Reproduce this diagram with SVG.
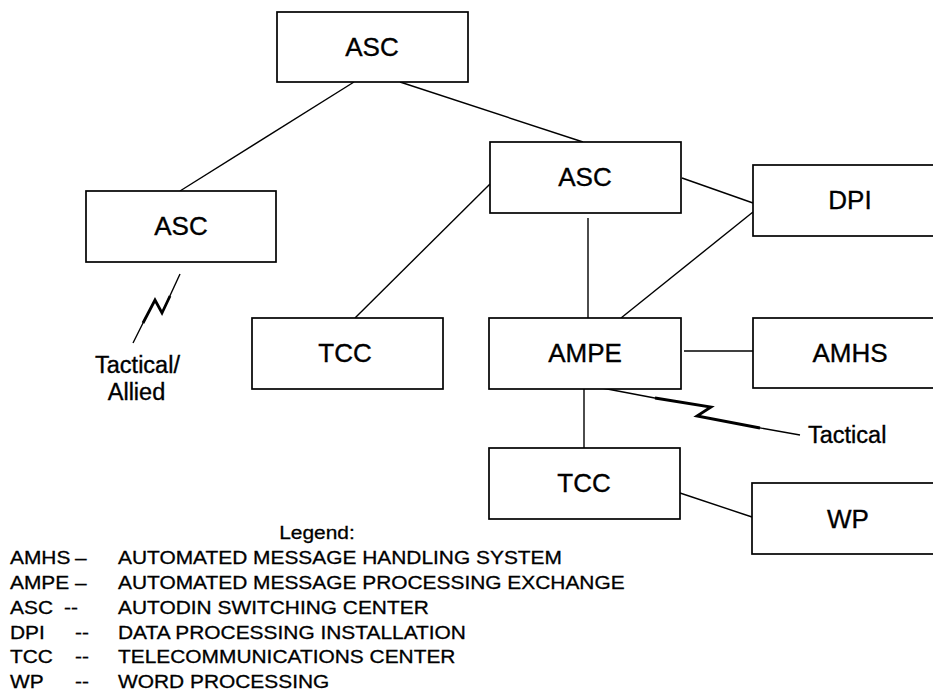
<svg xmlns="http://www.w3.org/2000/svg" width="933" height="690" viewBox="0 0 933 690">
<style>
.box{fill:#fff;stroke:#000;stroke-width:1.7}
.lbl{font-family:"Liberation Sans",Arial,sans-serif;font-size:26px;fill:#000;stroke:#000;stroke-width:0.35;text-anchor:middle}
.ann{font-family:"Liberation Sans",Arial,sans-serif;font-size:23.5px;fill:#000;stroke:#000;stroke-width:0.35}
.leg{font-family:"Liberation Sans",Arial,sans-serif;font-size:19px;fill:#000;stroke:#000;stroke-width:0.3}
.ln{fill:none;stroke:#000;stroke-width:1.4}
.bolt{fill:none;stroke:#000;stroke-width:2.8;stroke-linejoin:miter}
</style>
<rect width="933" height="690" fill="#fff"/>
<g id="connectors">
<line class="ln" x1="354" y1="82" x2="180" y2="191"/>
<line class="ln" x1="400" y1="82" x2="583" y2="142"/>
<line class="ln" x1="355" y1="318" x2="490" y2="184"/>
<line class="ln" x1="682" y1="178" x2="753" y2="203"/>
<line class="ln" x1="588" y1="218" x2="588" y2="318"/>
<line class="ln" x1="621" y1="318" x2="753" y2="212"/>
<line class="ln" x1="684" y1="351" x2="753" y2="351"/>
<line class="ln" x1="584" y1="389" x2="584" y2="448"/>
<line class="ln" x1="680" y1="493" x2="752" y2="517"/>
<line class="ln" x1="602" y1="388" x2="660" y2="399"/>
<polyline class="bolt" points="655,398 711,407 697,416 760,428"/>
<line class="ln" x1="755" y1="427" x2="800" y2="435"/>
<line class="ln" x1="180" y1="274" x2="168" y2="300"/>
<polyline class="bolt" points="170,296 162,313 155,300 143,323"/>
<line class="ln" x1="146" y1="317" x2="133" y2="343"/>
</g>
<g id="asc-top"><rect class="box" x="277" y="12" width="191" height="70"/><text class="lbl" x="372" y="56">ASC</text></g>
<g id="asc-left"><rect class="box" x="86" y="191" width="190" height="71"/><text class="lbl" x="181" y="235">ASC</text></g>
<g id="asc-mid"><rect class="box" x="490" y="142" width="191" height="71"/><text class="lbl" x="585" y="186">ASC</text></g>
<g id="dpi"><rect class="box" x="753" y="165" width="195" height="71"/><text class="lbl" x="850" y="209">DPI</text></g>
<g id="tcc-left"><rect class="box" x="252" y="318" width="191" height="71"/><text class="lbl" x="345" y="362">TCC</text></g>
<g id="ampe"><rect class="box" x="489" y="318" width="192" height="71"/><text class="lbl" x="585" y="362">AMPE</text></g>
<g id="amhs"><rect class="box" x="753" y="318" width="195" height="70"/><text class="lbl" x="850" y="362">AMHS</text></g>
<g id="tcc-bottom"><rect class="box" x="489" y="448" width="191" height="71"/><text class="lbl" x="584" y="492">TCC</text></g>
<g id="wp"><rect class="box" x="752" y="483" width="196" height="71"/><text class="lbl" x="848" y="528">WP</text></g>
<g id="tactical-allied"><text class="ann" x="137.5" y="373" text-anchor="middle">Tactical/</text><text class="ann" x="136.5" y="400" text-anchor="middle">Allied</text></g>
<g id="tactical"><text class="ann" x="808" y="443">Tactical</text></g>
<g id="legend" transform="scale(1.1 1)">
<text class="leg" x="288.2" y="539" text-anchor="middle">Legend:</text>
<text class="leg" x="9.1" y="564">AMHS</text><text class="leg" x="68.2" y="564">–</text><text class="leg" x="107.3" y="564">AUTOMATED MESSAGE HANDLING SYSTEM</text>
<text class="leg" x="9.1" y="589">AMPE</text><text class="leg" x="68.2" y="589">–</text><text class="leg" x="107.3" y="589">AUTOMATED MESSAGE PROCESSING EXCHANGE</text>
<text class="leg" x="9.1" y="614">ASC</text><text class="leg" x="58.2" y="614">--</text><text class="leg" x="107.3" y="614">AUTODIN SWITCHING CENTER</text>
<text class="leg" x="9.1" y="639">DPI</text><text class="leg" x="68.2" y="639">--</text><text class="leg" x="107.3" y="639">DATA PROCESSING INSTALLATION</text>
<text class="leg" x="9.1" y="663">TCC</text><text class="leg" x="68.2" y="663">--</text><text class="leg" x="107.3" y="663">TELECOMMUNICATIONS CENTER</text>
<text class="leg" x="9.1" y="688">WP</text><text class="leg" x="68.2" y="688">--</text><text class="leg" x="107.3" y="688">WORD PROCESSING</text>
</g>
</svg>
